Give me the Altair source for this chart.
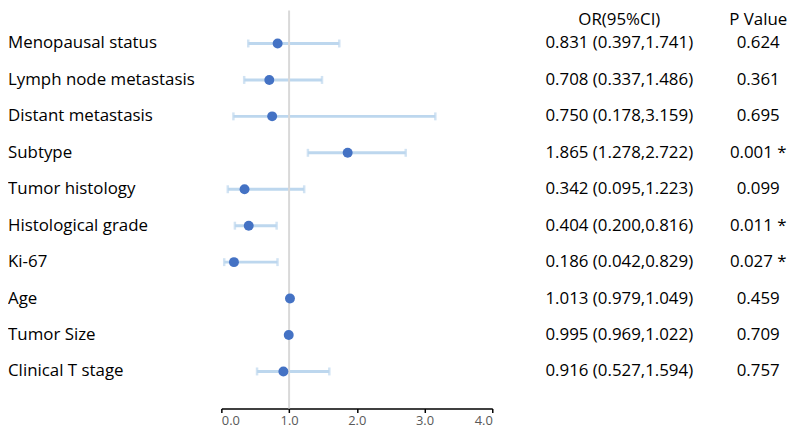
import altair as alt
import pandas as pd

labels = ["Menopausal status", "Lymph node metastasis", "Distant metastasis", "Subtype",
          "Tumor histology", "Histological grade", "Ki-67", "Age", "Tumor Size", "Clinical T stage"]
odds = [0.831, 0.708, 0.750, 1.865, 0.342, 0.404, 0.186, 1.013, 0.995, 0.916]
lower = [0.397, 0.337, 0.178, 1.278, 0.095, 0.200, 0.042, 0.979, 0.969, 0.527]
upper = [1.741, 1.486, 3.159, 2.722, 1.223, 0.816, 0.829, 1.049, 1.022, 1.594]
pvals = ["0.624", "0.361", "0.695", "0.001", "0.099", "0.011", "0.027", "0.459", "0.709", "0.757"]
signif = [False, False, False, True, False, True, True, False, False, False]
headers = ["OR(95%CI)", "P Value"]
ticks = [0, 1, 2, 3, 4]

df = pd.DataFrame({
    "label": labels,
    "or": odds,
    "lo": lower,
    "hi": upper,
    "ortext": [f"{o:.3f} ({l:.3f},{h:.3f})" for o, l, h in zip(odds, lower, upper)],
    "ptext": [p + (" *" if s else "") for p, s in zip(pvals, signif)],
})

FONT = "Open Sans"
FS = 17
yenc = alt.Y("label:N", sort=labels, axis=None,
             scale=alt.Scale(type="point", domain=labels, padding=0.96, align=0.47))
xscale = alt.Scale(domain=[0, 4], nice=False, zero=False)
xaxis = alt.Axis(values=ticks, format=".1f", grid=False, title=None,
                 domainColor="black", domainWidth=1.5, tickColor="black", tickWidth=1.5,
                 tickSize=4, labelFontSize=13, labelFont=FONT, labelColor="#595959",
                 labelPadding=2)

base = alt.Chart(df)

bars = base.mark_rule(color="#bdd7ee", strokeWidth=3).encode(
    x=alt.X("lo:Q", scale=xscale, axis=xaxis), x2="hi:Q", y=yenc)
cap_lo = base.mark_tick(color="#bdd7ee", size=8, thickness=2.5).encode(
    x=alt.X("lo:Q", scale=xscale), y=yenc)
cap_hi = base.mark_tick(color="#bdd7ee", size=8, thickness=2.5).encode(
    x=alt.X("hi:Q", scale=xscale), y=yenc)
ref = alt.Chart(pd.DataFrame({"ref": [1.0]})).mark_rule(color="#d9d9d9", strokeWidth=2).encode(
    x=alt.X("ref:Q", scale=xscale))
pts = base.mark_point(filled=True, color="#4472c4", size=100, opacity=1).encode(
    x=alt.X("or:Q", scale=xscale), y=yenc)

lab = base.mark_text(align="left", baseline="middle", font=FONT, fontSize=FS, color="black").encode(
    x=alt.value(-215), y=yenc, text="label:N")
ortxt = base.mark_text(align="center", baseline="middle", font=FONT, fontSize=FS, color="black").encode(
    x=alt.value(401), y=yenc, text="ortext:N")
ptxt = base.mark_text(align="center", baseline="middle", font=FONT, fontSize=FS, color="black").encode(
    x=alt.value(541), y=yenc, text="ptext:N")

hdr_df = pd.DataFrame({"h": headers, "pos": ["or", "p"]})
hdr_or = alt.Chart(hdr_df[hdr_df.pos == "or"]).mark_text(
    align="center", baseline="top", font=FONT, fontSize=FS, color="black").encode(
    x=alt.value(401), y=alt.value(2), text="h:N")
hdr_p = alt.Chart(hdr_df[hdr_df.pos == "p"]).mark_text(
    align="center", baseline="top", font=FONT, fontSize=FS, color="black").encode(
    x=alt.value(541), y=alt.value(2), text="h:N")

chart = alt.layer(bars, cap_lo, cap_hi, ref, pts, lab, ortxt, ptxt, hdr_or, hdr_p).properties(
    width=273, height=401,
    padding=0,
    background="white",
).configure_view(stroke=None)

chart.save("out.html", embed_options={"renderer": "svg", "actions": False})
